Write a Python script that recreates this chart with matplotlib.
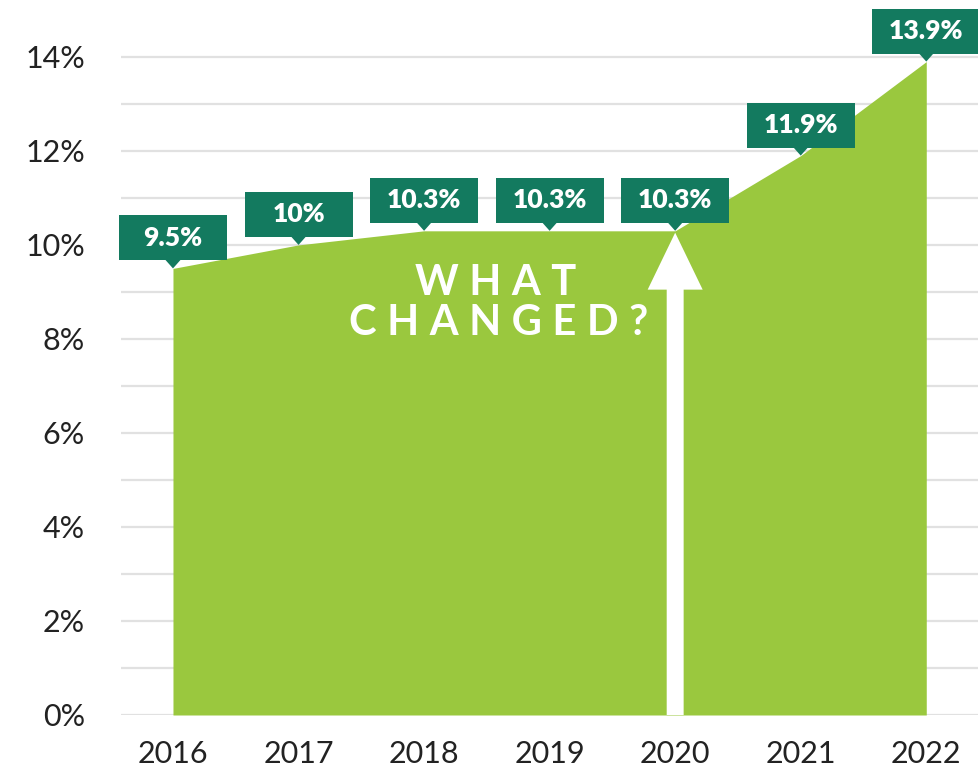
import matplotlib.pyplot as plt
import matplotlib.transforms as mtransforms
from matplotlib.patches import Rectangle, Polygon, FancyArrowPatch

years = [2016, 2017, 2018, 2019, 2020, 2021, 2022]
rates = [9.5, 10.0, 10.3, 10.3, 10.3, 11.9, 13.9]
rate_labels = ['9.5%', '10%', '10.3%', '10.3%', '10.3%', '11.9%', '13.9%']
y_ticks = [0, 2, 4, 6, 8, 10, 12, 14]
y_tick_labels = ['0%', '2%', '4%', '6%', '8%', '10%', '12%', '14%']

fill_green = '#9ac83e'
box_green = '#137a5f'
text_dark = '#222222'

plt.rcParams['font.family'] = ['Lato', 'DejaVu Sans']

fig = plt.figure(figsize=(9.79, 7.68), dpi=100)
ax = fig.add_axes([121 / 979, 53 / 768, 1 - 121 / 979, 1 - 53 / 768])

ax.set_xlim(2015.586, 2022.42)
ax.set_ylim(0, 15.21)

# grid every 1%, labels every 2%
ax.set_yticks(y_ticks)
ax.set_yticklabels(y_tick_labels)
ax.set_yticks(range(1, 15, 2), minor=True)
ax.grid(True, which='both', axis='y', color='#e1e1e1', linewidth=1.6, zorder=0)
ax.set_xticks(years)
ax.set_xticklabels([str(y) for y in years])
ax.tick_params(axis='both', which='both', length=0, labelsize=22, colors=text_dark)
ax.tick_params(axis='y', pad=26)
ax.tick_params(axis='x', pad=18)
for sp in ax.spines.values():
    sp.set_visible(False)
ax.set_axisbelow(True)

ax.fill_between(years, rates, 0, color=fill_green, linewidth=0, zorder=2)

# white arrow at 2020
arrow = FancyArrowPatch((years[4], 0), (years[4], rates[4] - 0.04),
                        arrowstyle='simple,head_length=4.1,head_width=3.96,tail_width=1.22',
                        mutation_scale=10, color='white', linewidth=0,
                        shrinkA=0, shrinkB=0, zorder=3)
ax.add_patch(arrow)

sp2 = '\u2009\u2009'
ax.text(2018.57, 9.2, sp2.join('WHAT'), color='white', fontsize=30,
        fontweight='bold', ha='center', va='center', zorder=4)
ax.text(2018.59, 8.33, sp2.join('CHANGED?'), color='white',
        fontsize=30, fontweight='bold', ha='center', va='center', zorder=4)

# value callouts
for x, y, lab in zip(years, rates, rate_labels):
    tr = fig.dpi_scale_trans + mtransforms.ScaledTranslation(x, y, ax.transData)
    ax.add_patch(Rectangle((-0.54, 0.08), 1.08, 0.45, transform=tr,
                           facecolor=box_green, edgecolor='none', zorder=5, clip_on=False))
    ax.add_patch(Polygon([(-0.08, 0.09), (0.08, 0.09), (0, 0.0)], closed=True,
                         transform=tr, facecolor=box_green, edgecolor='none',
                         zorder=5, clip_on=False))
    ax.text(0, 0.305, lab, transform=tr, color='white', fontsize=19, fontweight='heavy',
            ha='center', va='center', zorder=6, clip_on=False)

fig.savefig('out.png', dpi=100)
